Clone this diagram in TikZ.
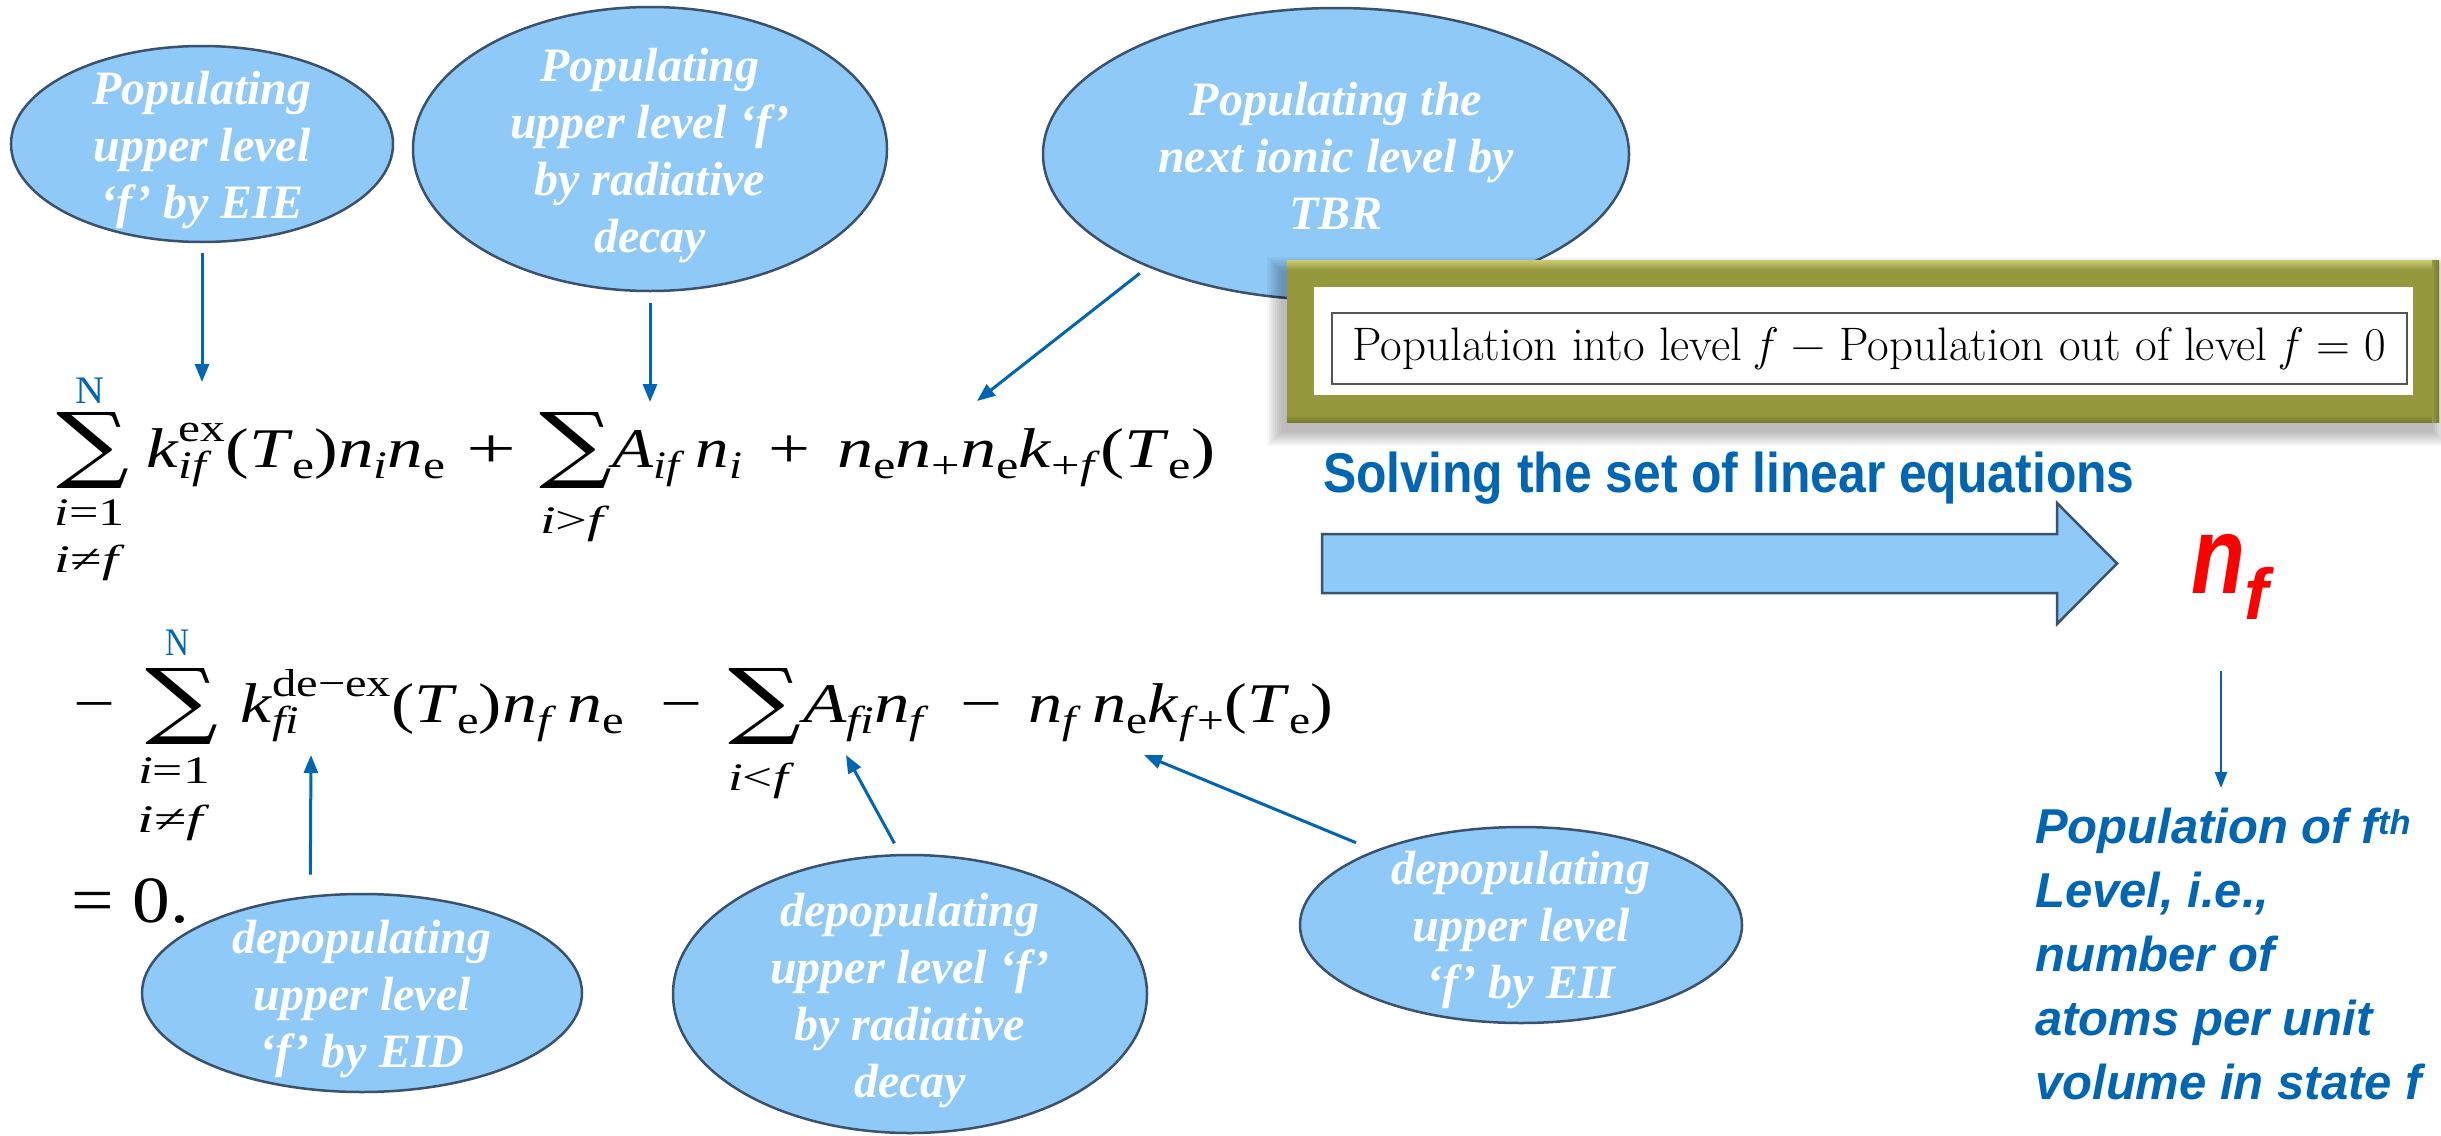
\documentclass[tikz,border=0pt]{standalone}
\usepackage{fontspec}
\setmainfont{Liberation Serif}
\newfontfamily\sansf{Liberation Sans}
\newfontfamily\djs{DejaVu Serif}
\newcommand\lmrfont{\fontfamily{lmr}\selectfont}
\usepackage{graphicx}
\usetikzlibrary{arrows.meta,shapes.geometric}
\definecolor{ellfill}{RGB}{143,201,247}
\definecolor{ellborder}{RGB}{58,82,107}
\definecolor{arblue}{RGB}{0,102,179}
\definecolor{olivef}{RGB}{149,152,61}
\definecolor{olivelight}{RGB}{196,200,112}
\definecolor{olivedark}{RGB}{118,121,44}
\definecolor{framegray}{RGB}{85,85,85}
\definecolor{nfred}{RGB}{255,0,0}
\newcommand\eqfont{\fontsize{56}{64}\selectfont}
\newcommand\scr{\fontsize{39}{39}\selectfont}
\newcommand\sbs[1]{\raisebox{-11pt}{\scr #1}}
\newcommand\sps[1]{\raisebox{26pt}{\scr #1}}
\newcommand\sbsp[2]{\rlap{\sbs{#1}}\sps{#2}}
\newcommand\fitw[2]{\resizebox{#1}{\height}{#2}}
\newcommand\sumglyph{\resizebox*{73pt}{76pt}{\djs ∑}}
\tikzset{
  ell/.style={ellipse, draw=ellborder, fill=ellfill, line width=2.5pt, inner sep=0},
  ellt/.style={text=white, font=\fontsize{48}{57}\selectfont\bfseries\itshape, align=center, inner sep=0},
  conn/.style={draw=arblue, line width=3pt, -{Triangle[length=18pt,width=14pt]}},
  conn7/.style={draw=arblue, line width=2.5pt, -{Triangle[length=16pt,width=12pt]}},
  eq/.style={anchor=base west, inner sep=0, font=\eqfont},
  lim/.style={anchor=base, inner sep=0, font=\scr},
  sumn/.style={anchor=north west, inner sep=0},
  bigarr/.style={draw=ellborder, fill=ellfill, line width=2.5pt, line join=miter}
}
\begin{document}
\begin{tikzpicture}[x=1pt,y=-1pt]
\useasboundingbox (0,0) rectangle (2441,1135);
\fill[white] (0,0) rectangle (2441,1135);

% ---------- ellipses ----------
\node[ell, minimum width=382pt, minimum height=196pt] (e1) at (202,144) {};
\node[ell, minimum width=474pt, minimum height=284pt] (e2) at (650,149) {};
\node[ell, minimum width=586pt, minimum height=292pt] (e3) at (1336,154) {};
\node[ell, minimum width=440pt, minimum height=198pt] (e4) at (362,993) {};
\node[ell, minimum width=474pt, minimum height=278pt] (e5) at (910,994) {};
\node[ell, minimum width=442pt, minimum height=196pt] (e6) at (1521,925) {};

\node[ellt] (e1t) at (202,150) {Populating\\upper level\\‘f’ by EIE};
\node[ellt] (e2t) at (650,156) {Populating\\upper level ‘f’\\by radiative\\decay};
\node[ellt] (e3t) at (1336,156) {Populating the\\next ionic level by\\TBR};
\node[ellt] (e4t) at (362,999) {depopulating\\upper level\\‘f’ by EID};
\node[ellt] (e5t) at (910,1001) {depopulating\\upper level ‘f’\\by radiative\\decay};
\node[ellt] (e6t) at (1521,930) {depopulating\\upper level\\‘f’ by EII};

% ---------- equation, line 1 ----------
\node[sumn] (s1) at (56,412) {\sumglyph};
\node[lim, text=arblue] (n1) at (90,403) {\fitw{29pt}{N}};
\node[lim] (l1a) at (90,525) {\fitw{70pt}{\textit{i}=1}};
\node[lim] (l1b) at (90,572) {\fitw{70pt}{\textit{i}≠\textit{f}}};
\node[eq] (k1) at (146,467) {\fitw{299pt}{\textit{k}\sbsp{\textit{if}}{ex}(\textit{T}\sbs{e})\textit{n}\sbs{\textit{i}}\textit{n}\sbs{e}}};
\node[eq] (p1) at (466,467) {\fitw{50pt}{+}};
\node[sumn] (s2) at (539,412) {\sumglyph};
\node[lim] (l2) at (575,533) {\fitw{70pt}{\textit{i}>\textit{f}}};
\node[eq] (a1) at (612,467) {\fitw{130pt}{\textit{A}\sbs{\textit{if}}\,\textit{n}\sbs{\textit{i}}}};
\node[eq] (p2) at (768,467) {\fitw{42pt}{+}};
\node[eq] (q3) at (837,467) {\fitw{378pt}{\textit{n}\sbs{e}\textit{n}\sbs{+}\textit{n}\sbs{e}\textit{k}\sbs{+\textit{f}}(\textit{T}\sbs{e})}};

% ---------- equation, line 2 ----------
\node[eq] (m1) at (73,722) {\fitw{42pt}{−}};
\node[sumn] (s3) at (145,668) {\sumglyph};
\node[lim, text=arblue] (n2) at (177,655) {\fitw{24pt}{N}};
\node[lim] (l3a) at (174,783) {\fitw{72pt}{\textit{i}=1}};
\node[lim] (l3b) at (174,832) {\fitw{72pt}{\textit{i}≠\textit{f}}};
\node[eq] (k2) at (240,722) {\fitw{384pt}{\textit{k}\sbsp{\textit{fi}}{de−ex}(\textit{T}\sbs{e})\textit{n}\sbs{\textit{f}}\,\textit{n}\sbs{e}}};
\node[eq] (m2) at (660,722) {\fitw{42pt}{−}};
\node[sumn] (s4) at (728,668) {\sumglyph};
\node[lim] (l4) at (761,790) {\fitw{66pt}{\textit{i}<\textit{f}}};
\node[eq] (a2) at (803,722) {\fitw{126pt}{\textit{A}\sbs{\textit{fi}}\textit{n}\sbs{\textit{f}}}};
\node[eq] (m3) at (960,722) {\fitw{42pt}{−}};
\node[eq] (q6) at (1028,722) {\fitw{305pt}{\textit{n}\sbs{\textit{f}}\,\textit{n}\sbs{e}\textit{k}\sbs{\textit{f}+}(\textit{T}\sbs{e})}};
\node[anchor=base west, inner sep=0, font=\fontsize{66}{70}\selectfont] (q7) at (71,922) {\fitw{118pt}{= 0.}};

% ---------- tips ----------
\coordinate (tip1) at (202,382);
\coordinate (tip2) at (650,402);
\coordinate (tip3) at (977,401);
\coordinate (tip4) at (311,755);
\coordinate (tip5) at (846,755);
\coordinate (tip6) at (1144,755);

\draw[conn, shorten <=10pt] (e1.south) -- (tip1);
\draw[conn, shorten <=11pt] (e2.south) -- (tip2);
\draw[conn, shorten <=10pt] (e3.211) -- (tip3);
\draw[conn, shorten <=21pt] (e4.118) -- (tip4);
\draw[conn, shorten <=12pt] (e5.94) -- (tip5);
\draw[conn, shorten <=20pt] (e6.153) -- (tip6);

% ---------- olive framed balance box ----------
\foreach \k in {0,2,...,14}{
  \fill[black, opacity=0.035] (1281-\k,271-\k) rectangle (2433+\k,432+\k);
}
\node[fill=olivef, minimum width=1152pt, minimum height=161pt, inner sep=0] (frame) at (1863,341.5) {};
\shade[top color=olivelight, bottom color=olivef] (frame.north west) rectangle ([yshift=-9pt]frame.north east);
\shade[top color=olivef, bottom color=olivedark] ([yshift=7pt]frame.south west) rectangle (frame.south east);
\shade[left color=olivef, right color=olivedark] ([xshift=-7pt]frame.north east) rectangle (frame.south east);
\node[fill=white, minimum width=1099pt, minimum height=108pt, inner sep=0] (paper) at (1863.5,341) {};
\node[draw=framegray, line width=2.5pt, minimum width=1075pt, minimum height=71pt, inner sep=0,
      font=\lmrfont\fontsize{47}{50}\selectfont] (balance) at (1869.5,348.5)
      {Population into level \textit{f} − Population out of level \textit{f} = 0};

% ---------- solving ----------
\node[anchor=base west, inner sep=0, text=arblue, font=\sansf\bfseries\fontsize{56}{60}\selectfont] (solve) at (1323,492)
      {\scalebox{0.89}[1]{Solving the set of linear equations}};
\draw[bigarr] (1322,534) -- (2057,534) -- (2057,503) -- (2117,563.5) -- (2057,624) -- (2057,593) -- (1322,593) -- cycle;

% ---------- n_f ----------
\node[anchor=base west, inner sep=0, text=nfred, font=\sansf\bfseries\itshape] (nf) at (2191,593)
      {\fontsize{110}{110}\selectfont\scalebox{0.8}[1]{n}\raisebox{-26pt}{\fontsize{72}{72}\selectfont f}};
\coordinate (a7s) at (2221,671);
\coordinate (a7e) at (2221,788);
\draw[conn7] (a7s) -- (a7e);

\node[anchor=north west, inner sep=0, align=left, text=arblue, font=\sansf\bfseries\itshape\fontsize{49}{64}\selectfont] (pop) at (2035,808)
      {Population of f\textsuperscript{th}\\Level, i.e.,\\number of\\atoms per unit\\volume in state f};
\end{tikzpicture}
\end{document}
